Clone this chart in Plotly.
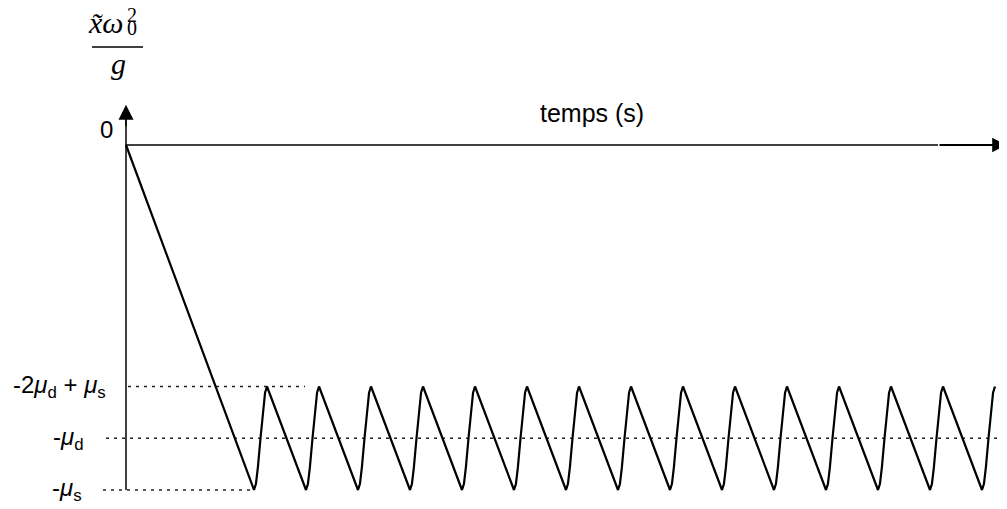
import plotly.graph_objects as go

# niveaux (en unités de g/omega0^2)
mu_s = 1.0
mu_d = 0.85

# instants de fin de collage (minima) et fin de glissement (maxima)
t_stick_end = [12.8, 18.0, 23.2, 28.4, 33.6, 38.8, 44.0, 49.2,
               54.4, 59.6, 64.8, 70.0, 75.2, 80.4, 85.6]
t_slip_end = [14.1, 19.3, 24.5, 29.7, 34.9, 40.1, 45.3, 50.5,
              55.7, 60.9, 66.1, 71.3, 76.5, 81.7, 86.9]

# allure de la remontée (fraction du temps, fraction de l'amplitude)
rise_t = [0.0, 0.15, 0.3, 0.5, 0.7, 0.85, 1.0]
rise_y = [0.0, 0.06, 0.22, 0.5, 0.78, 0.94, 1.0]

y_low = -mu_s
y_mid = -mu_d
y_high = -2 * mu_d + mu_s

xs = [0.0]
ys = [0.0]
for t0, t1 in zip(t_stick_end, t_slip_end):
    for ft, fy in zip(rise_t, rise_y):
        xs.append(t0 + ft * (t1 - t0))
        ys.append(y_low + fy * (y_high - y_low))

fig = go.Figure()

dot = dict(color="#222222", width=1.5, dash="3px,5px")
fig.add_trace(go.Scatter(x=[0.2, 17.9], y=[y_high, y_high], mode="lines", line=dot))
fig.add_trace(go.Scatter(x=[-2.0, 88.1], y=[y_mid, y_mid], mode="lines", line=dot))
fig.add_trace(go.Scatter(x=[-2.3, 12.8], y=[y_low, y_low], mode="lines", line=dot))

# axes
fig.add_trace(go.Scatter(x=[0, 0], y=[y_low, 0.1], mode="lines",
                         line=dict(color="black", width=1.5)))
fig.add_trace(go.Scatter(x=[0, 81.2], y=[0, 0], mode="lines",
                         line=dict(color="black", width=1.3)))

fig.add_trace(go.Scatter(x=xs, y=ys, mode="lines",
                         line=dict(color="black", width=2.2)))

lab = dict(family="Liberation Sans, Arial", size=24, color="black")
serif_fam = "Liberation Serif, DejaVu Serif"
serif = dict(family=serif_fam, size=30, color="black")
small = dict(family=serif_fam, size=20, color="black")

annotations = [
    dict(x=0, y=0.117, ax=0, ay=0.05, xref="x", yref="y", axref="x", ayref="y",
         showarrow=True, arrowhead=2, arrowsize=2, arrowwidth=1.5, arrowcolor="black", text=""),
    dict(x=88.05, y=0, ax=81.2, ay=0, xref="x", yref="y", axref="x", ayref="y",
         showarrow=True, arrowhead=2, arrowsize=1.3, arrowwidth=2.2, arrowcolor="black", text=""),
    dict(x=-2.0, y=0.045, text="0", font=lab),
    dict(x=46.6, y=0.093, text="temps (s)", font=dict(lab, size=25)),
    dict(x=-1.8, y=y_high, xanchor="right",
         text="-2<i>μ</i><sub>d</sub> + <i>μ</i><sub>s</sub>", font=lab),
    dict(x=-4.0, y=y_mid, xanchor="right", text="-<i>μ</i><sub>d</sub>", font=lab),
    dict(x=-4.2, y=y_low, xanchor="right", text="-<i>μ</i><sub>s</sub>", font=lab),
    dict(x=-0.1, y=0.354, xanchor="right", text="<i>x̃ω</i>", font=serif, borderpad=0),
    dict(x=0.55, y=0.376, text="2", font=small, borderpad=0),
    dict(x=0.55, y=0.339, text="0", font=small, borderpad=0),
    dict(x=-0.75, y=0.235, text="<i>g</i>", font=serif),
]
for a in annotations:
    a.setdefault("xref", "x")
    a.setdefault("yref", "y")
    a.setdefault("showarrow", False)
    a.setdefault("yanchor", "middle")

# la page ajoute 8 px de marge : la figure occupe 999x501
fig.update_layout(
    width=999, height=501,
    margin=dict(l=0, r=0, t=0, b=0),
    paper_bgcolor="white", plot_bgcolor="white",
    showlegend=False,
    annotations=annotations,
    shapes=[dict(type="line", xref="x", yref="y", x0=-3.4, x1=1.7, y0=0.284, y1=0.284,
                 line=dict(color="black", width=1.3))],
    xaxis=dict(range=[-11.8, 88.1], visible=False, fixedrange=True),
    yaxis=dict(range=[-1.0551, 0.3971], visible=False, fixedrange=True),
)

fig.write_html("out.html")
